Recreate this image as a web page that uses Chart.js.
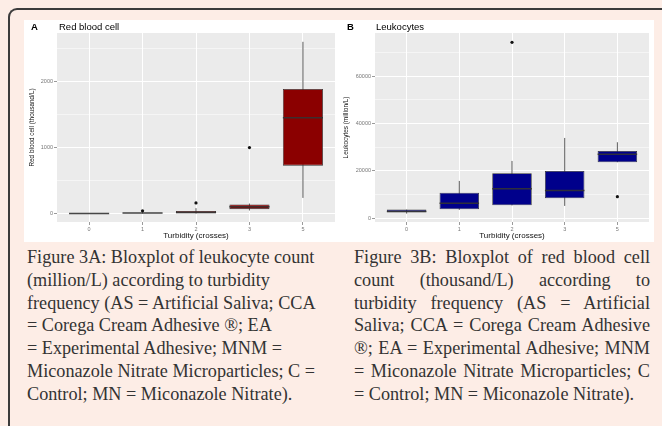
<!DOCTYPE html>
<html><head><meta charset="utf-8">
<script src="https://cdn.jsdelivr.net/npm/chart.js@4.4.0/dist/chart.umd.min.js"></script>
<style>
html,body{margin:0;padding:0;}
body{width:662px;height:426px;overflow:hidden;background:#fdede6;position:relative;font-family:"Liberation Sans",Arial,sans-serif;}
#frame{position:absolute;left:8px;top:8px;width:720px;height:500px;border-left:2px solid #3c3c3c;border-top:2px solid #3c3c3c;border-top-left-radius:9px;box-sizing:border-box;}
#white{position:absolute;left:24px;top:20px;width:630px;height:222px;background:#fff;}
.cv{position:absolute;top:20px;width:315px;height:222px;}
.tag{position:absolute;top:21px;font-size:9.5px;font-weight:bold;color:#000;line-height:12px;z-index:5;}
.ttl{position:absolute;top:21px;font-size:9.5px;color:#000;line-height:12px;z-index:5;}
.cap{position:absolute;top:246px;font-family:"Liberation Serif","Times New Roman",serif;font-size:18.2px;line-height:22.8px;color:#333;}
.cap div{white-space:nowrap;}
.just{width:296px;}
.just div{white-space:normal;text-align:justify;text-align-last:justify;}
.just div.last{text-align-last:left;}
</style></head>
<body>
<div id="frame"></div>
<div id="white"></div>
<div class="cv" style="left:24px"><canvas id="cA" width="315" height="222"></canvas></div>
<div class="cv" style="left:339px"><canvas id="cB" width="315" height="222"></canvas></div>
<div class="tag" style="left:31px">A</div>
<div class="ttl" style="left:59px">Red blood cell</div>
<div class="tag" style="left:347px">B</div>
<div class="ttl" style="left:376px">Leukocytes</div>
<div class="cap" style="left:27px">
<div>Figure 3A: Bloxplot of leukocyte count</div>
<div>(million/L) according to turbidity</div>
<div>frequency (AS = Artificial Saliva; CCA</div>
<div>= Corega Cream Adhesive ®; EA</div>
<div>= Experimental Adhesive; MNM =</div>
<div>Miconazole Nitrate Microparticles; C =</div>
<div>Control; MN = Miconazole Nitrate).</div>
</div>
<div class="cap just" style="left:354px">
<div>Figure 3B: Bloxplot of red blood cell</div>
<div>count (thousand/L) according to</div>
<div>turbidity frequency (AS = Artificial</div>
<div>Saliva; CCA = Corega Cream Adhesive</div>
<div>®; EA = Experimental Adhesive; MNM</div>
<div>= Miconazole Nitrate Microparticles; C</div>
<div class="last">= Control; MN = Miconazole Nitrate).</div>
</div>
<script>
// ---- data ----
const categories = ['0', '1', '2', '3', '5'];

// Panel A: Red blood cell (thousand/L)
const rbcLow    = [0, 0, 0, 45, 236];
const rbcQ1     = [0, 2, 2, 65, 726];
const rbcMedian = [0, 6, 15, 100, 1454];
const rbcQ3     = [0, 12, 38, 135, 1890];
const rbcHigh   = [0, 22, 80, 150, 2606];
const rbcOutCat = [1, 2, 3];
const rbcOutVal = [40, 160, 1000];
const rbcTicks  = [0, 1000, 2000];
const rbcMinor  = [500, 1500, 2500];

// Panel B: Leukocytes (million/L)
const leuLow    = [1940, 3500, 5400, 5190, 23630];
const leuQ1     = [2530, 3800, 5490, 8440, 23630];
const leuMedian = [2800, 6330, 12490, 11650, 27000];
const leuQ3     = [3630, 10800, 18990, 19960, 28400];
const leuHigh   = [3630, 15740, 24180, 33880, 32070];
const leuOutCat = [2, 4];
const leuOutVal = [74260, 9110];
const leuTicks  = [0, 20000, 40000, 60000];
const leuMinor  = [10000, 30000, 50000, 70000];

const xTitle = 'Turbidity (crosses)';

function boxExtras(low, high, median) {
  return {
    id: 'boxExtras',
    beforeDraw(chart) {
      const {ctx, chartArea: a} = chart;
      ctx.save();
      ctx.fillStyle = '#ffffff';
      ctx.fillRect(0, 0, chart.width, chart.height);
      ctx.fillStyle = '#ebebeb';
      ctx.fillRect(a.left, a.top, a.right - a.left, a.bottom - a.top);
      ctx.restore();
    },
    beforeDatasetsDraw(chart) {
      const {ctx} = chart;
      const xs = chart.scales.x, ys = chart.scales.y;
      ctx.save();
      ctx.strokeStyle = '#333333';
      ctx.lineWidth = 0.8;
      for (let i = 0; i < categories.length; i++) {
        const x = xs.getPixelForValue(i);
        ctx.beginPath();
        ctx.moveTo(x, ys.getPixelForValue(low[i]));
        ctx.lineTo(x, ys.getPixelForValue(high[i]));
        ctx.stroke();
      }
      ctx.restore();
    },
    afterDatasetsDraw(chart) {
      const {ctx} = chart;
      const ys = chart.scales.y;
      const meta = chart.getDatasetMeta(0);
      ctx.save();
      ctx.strokeStyle = 'rgba(51,51,51,0.9)';
      ctx.lineWidth = 1.5;
      meta.data.forEach((el, i) => {
        const y = ys.getPixelForValue(median[i]);
        ctx.beginPath();
        ctx.moveTo(el.x - el.width / 2, y);
        ctx.lineTo(el.x + el.width / 2, y);
        ctx.stroke();
      });
      ctx.restore();
    }
  };
}

function makeChart(id, cfg) {
  const major = cfg.ticks;
  const gridVals = cfg.ticks.concat(cfg.minor).sort((a, b) => a - b);
  new Chart(document.getElementById(id), {
    type: 'bar',
    data: {
      datasets: [
        {
          type: 'bar',
          data: categories.map((c, i) => ({x: i, y: [cfg.q1[i], cfg.q3[i]]})),
          backgroundColor: cfg.fill,
          borderColor: '#333333',
          borderWidth: 0.8,
          borderSkipped: false,
          categoryPercentage: 0.75,
          barPercentage: 1
        },
        {
          type: 'scatter',
          data: cfg.outCat.map((c, i) => ({x: c, y: cfg.outVal[i]})),
          pointRadius: 1.6,
          pointBackgroundColor: '#111111',
          pointBorderWidth: 0
        }
      ]
    },
    options: {
      responsive: false,
      animation: false,
      events: [],
      layout: {padding: {top: 13, right: cfg.padRight, left: 0, bottom: 0}},
      plugins: {legend: {display: false}, tooltip: {enabled: false}},
      scales: {
        x: {
          type: 'linear',
          min: -0.6, max: 4.6,
          offset: false,
          afterBuildTicks: s => { s.ticks = categories.map((c, i) => ({value: i})); },
          afterFit: s => { s.height = 20; },
          ticks: {
            autoSkip: false,
            callback: v => categories[v],
            font: {size: 5.5, family: 'Liberation Sans'},
            color: '#777777',
            padding: 1,
            maxRotation: 0
          },
          grid: {offset: false, color: '#ffffff', lineWidth: 1, tickColor: '#555555', tickLength: 3, tickWidth: 0.6},
          border: {display: false},
          title: {display: true, text: xTitle, font: {size: 8, family: 'Liberation Sans'}, color: '#111111', padding: {top: 0, bottom: 1}}
        },
        y: {
          min: cfg.min, max: cfg.max,
          afterBuildTicks: s => { s.ticks = gridVals.map(v => ({value: v})); },
          afterFit: s => { s.width = cfg.yWidth; },
          ticks: {
            autoSkip: false,
            callback: v => major.includes(v) ? String(v) : '',
            font: {size: 5.5, family: 'Liberation Sans'},
            color: '#777777',
            padding: 1
          },
          grid: {
            color: '#ffffff',
            lineWidth: c => major.includes(c.tick.value) ? 1 : 0.5,
            tickColor: c => major.includes(c.tick.value) ? '#555555' : 'rgba(0,0,0,0)',
            tickLength: 3,
            tickWidth: 0.6
          },
          border: {display: false},
          title: {display: true, text: cfg.yTitle, font: {size: 6.4, family: 'Liberation Sans'}, color: '#111111', padding: {top: cfg.yTitlePad, bottom: 0}}
        }
      }
    },
    plugins: [boxExtras(cfg.low, cfg.high, cfg.median)]
  });
}

makeChart('cA', {
  q1: rbcQ1, q3: rbcQ3, low: rbcLow, high: rbcHigh, median: rbcMedian,
  outCat: rbcOutCat, outVal: rbcOutVal, ticks: rbcTicks, minor: rbcMinor,
  min: -130, max: 2740, fill: '#8b0000', padRight: 4, yWidth: 33, yTitlePad: 4,
  yTitle: 'Red blood cell (thousand/L)'
});
makeChart('cB', {
  q1: leuQ1, q3: leuQ3, low: leuLow, high: leuHigh, median: leuMedian,
  outCat: leuOutCat, outVal: leuOutVal, ticks: leuTicks, minor: leuMinor,
  min: -1600, max: 78200, fill: '#00008b', padRight: 5, yWidth: 36, yTitlePad: 3,
  yTitle: 'Leukocytes (million/L)'
});
</script>
</body></html>
